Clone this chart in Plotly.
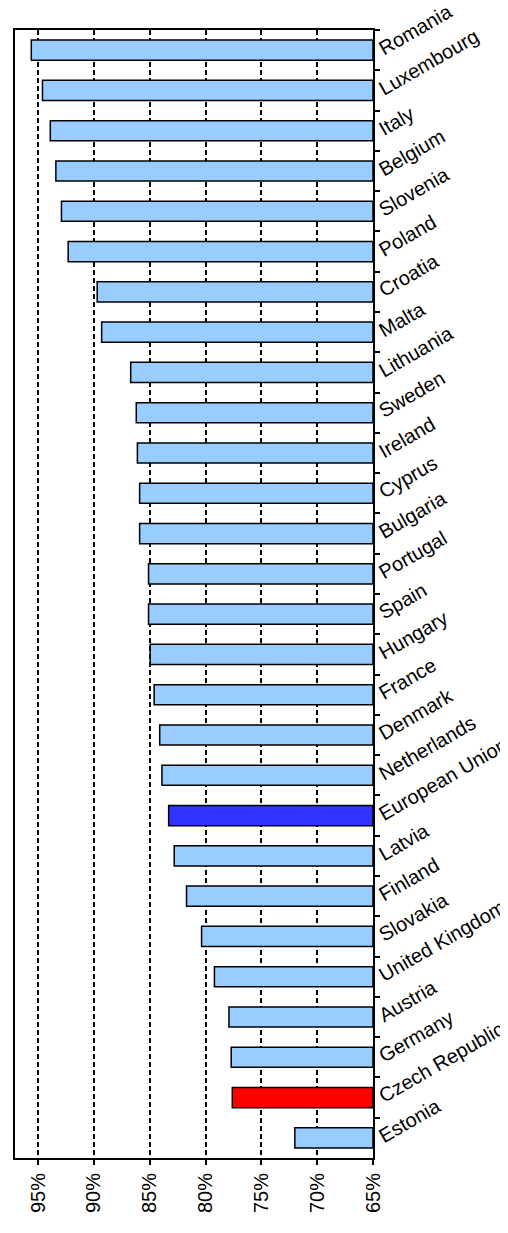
import plotly.graph_objects as go

# countries from top to bottom, share in %
countries = [
    "Romania", "Luxembourg", "Italy", "Belgium", "Slovenia", "Poland",
    "Croatia", "Malta", "Lithuania", "Sweden", "Ireland", "Cyprus",
    "Bulgaria", "Portugal", "Spain", "Hungary", "France", "Denmark",
    "Netherlands", "European Union", "Latvia", "Finland", "Slovakia",
    "United Kingdom", "Austria", "Germany", "Czech Republic", "Estonia",
]
values = [
    95.6, 94.6, 93.9, 93.4, 92.9, 92.3,
    89.7, 89.3, 86.7, 86.2, 86.1, 85.9,
    85.9, 85.1, 85.1, 84.95, 84.6, 84.1,
    83.9, 83.3, 82.8, 81.7, 80.35,
    79.2, 77.9, 77.7, 77.6, 72.0,
]
tick_vals = [95, 90, 85, 80, 75, 70, 65]
tick_text = ["95%", "90%", "85%", "80%", "75%", "70%", "65%"]

base_value = 65
highlight = {"European Union": "#3333FF", "Czech Republic": "#FF0000"}
colors = [highlight.get(c, "#99CCFF") for c in countries]

fig = go.Figure()
fig.add_trace(
    go.Bar(
        y=countries,
        x=[v - base_value for v in values],
        base=base_value,
        orientation="h",
        marker=dict(color=colors, line=dict(color="black", width=1.5)),
        width=0.5,
    )
)

font = "Liberation Sans, Arial, sans-serif"

fig.update_xaxes(
    range=[97.06, 65],
    tickvals=tick_vals,
    ticktext=tick_text,
    tickangle=-90,
    ticks="outside",
    ticklen=5,
    tickwidth=1.5,
    tickcolor="black",
    showgrid=True,
    gridcolor="black",
    gridwidth=1.5,
    griddash="5px,3px",
    showline=True,
    linecolor="black",
    linewidth=2,
    mirror=True,
    zeroline=False,
    automargin=False,
    tickfont=dict(family=font, size=20, color="black"),
)
fig.update_yaxes(
    categoryorder="array",
    categoryarray=countries,
    autorange="reversed",
    side="right",
    tickson="boundaries",
    ticks="outside",
    ticklen=5,
    tickwidth=1.5,
    tickcolor="black",
    tickangle=-30,
    showgrid=False,
    showline=True,
    linecolor="black",
    linewidth=2,
    mirror=True,
    automargin=False,
    tickfont=dict(family=font, size=20, color="black"),
)

# page body adds an 8px offset, so the figure is 8px smaller than the window
fig.update_layout(
    width=500,
    height=1225,
    margin=dict(l=7, r=135, t=22, b=75),
    plot_bgcolor="white",
    paper_bgcolor="white",
    showlegend=False,
    bargap=0.5,
)

fig.write_html("out.html")
